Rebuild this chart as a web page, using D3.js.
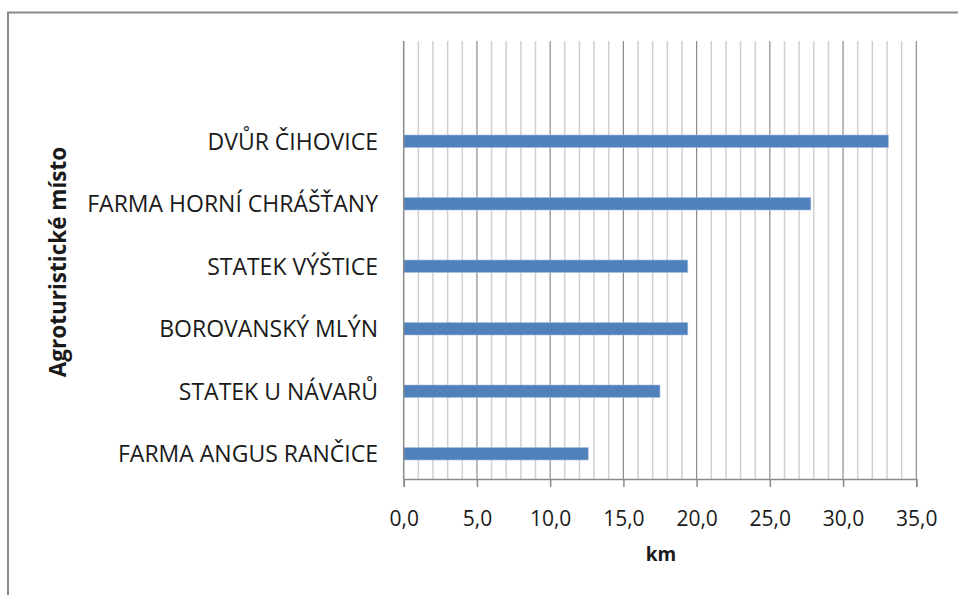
<!DOCTYPE html>
<html>
<head>
<meta charset="utf-8">
<script src="https://cdn.jsdelivr.net/npm/d3@7"></script>
<style>
  body { margin: 0; background: #fff; }
  text { font-family: "Open Sans", Lato, sans-serif; fill: #1a1a1a; }
</style>
</head>
<body>
<div id="chart"></div>
<script>
// places, top to bottom, and their distance in km
var places = ['DVŮR ČIHOVICE', 'FARMA HORNÍ CHRÁŠŤANY', 'STATEK VÝŠTICE',
              'BOROVANSKÝ MLÝN', 'STATEK U NÁVARŮ', 'FARMA ANGUS RANČICE'];
var km = [33.1, 27.8, 19.4, 19.4, 17.5, 12.6];
var xTicks = [0, 5, 10, 15, 20, 25, 30, 35];
var xTitle = 'km';
var yTitle = 'Agroturistické místo';

var w = 958;
var h = 595;
var plotTop = 41, plotBottom = 479;
var barH = 12.5;

var data = places.map(function(p, i) { return {name: p, value: km[i]}; });

var xscale = d3.scaleLinear().domain([0, 35]).range([403.7, 916.3]);
var yscale = d3.scaleBand().domain(places).range([110, 485]);

var svg = d3.select('#chart')
            .append('svg')
            .attr('width', w)
            .attr('height', h);

// chart frame (top and left edges visible)
svg.append('path')
   .attr('d', 'M8,595 L8,12.5 L958,12.5')
   .attr('fill', 'none')
   .attr('stroke', '#8a8a8a')
   .attr('stroke-width', 2);

// minor gridlines
svg.append('g')
   .selectAll('line')
   .data(d3.range(1, 35).filter(function(v) { return v % 5 !== 0; }))
   .enter()
   .append('line')
   .attr('x1', function(d) { return xscale(d); })
   .attr('x2', function(d) { return xscale(d); })
   .attr('y1', plotTop)
   .attr('y2', plotBottom)
   .attr('stroke', '#cfcfcf')
   .attr('stroke-width', 1.5);

// major gridlines
svg.append('g')
   .selectAll('line')
   .data(xTicks.slice(1))
   .enter()
   .append('line')
   .attr('x1', function(d) { return xscale(d); })
   .attr('x2', function(d) { return xscale(d); })
   .attr('y1', plotTop)
   .attr('y2', plotBottom)
   .attr('stroke', '#8c8c8c')
   .attr('stroke-width', 1.2);

// bars
svg.append('g')
   .selectAll('rect')
   .data(data)
   .enter()
   .append('rect')
   .attr('x', xscale(0))
   .attr('y', function(d) { return yscale(d.name) + yscale.bandwidth() / 2 - barH / 2; })
   .attr('width', function(d) { return xscale(d.value) - xscale(0); })
   .attr('height', barH)
   .attr('fill', '#4f81bd')
   .attr('stroke', '#a9c0de')
   .attr('stroke-width', 0.6);

// x axis
var xaxis = d3.axisBottom(xscale)
              .tickValues(xTicks)
              .tickSize(8)
              .tickPadding(24)
              .tickFormat(function(d) { return d3.format('.1f')(d).replace('.', ','); });

var gx = svg.append('g')
            .attr('transform', 'translate(0,' + plotBottom + ')')
            .call(xaxis);
gx.select('.domain').attr('stroke', '#8a8a8a').attr('stroke-width', 1.5);
gx.selectAll('.tick line').attr('stroke', '#8a8a8a').attr('stroke-width', 1.5);
gx.selectAll('.tick text')
  .style('font-family', '"Open Sans", sans-serif')
  .style('font-size', '21px')
  .attr('fill', '#1a1a1a');

// y axis line
svg.append('line')
   .attr('x1', xscale(0))
   .attr('x2', xscale(0))
   .attr('y1', plotTop)
   .attr('y2', plotBottom)
   .attr('stroke', '#8a8a8a')
   .attr('stroke-width', 1.5);

// category labels
svg.append('g')
   .selectAll('text')
   .data(places)
   .enter()
   .append('text')
   .attr('x', 378)
   .attr('y', function(d) { return yscale(d) + yscale.bandwidth() / 2; })
   .attr('dy', '0.36em')
   .attr('text-anchor', 'end')
   .style('font-size', '23px')
   .text(function(d) { return d; });

// axis titles
svg.append('text')
   .attr('x', 661)
   .attr('y', 561)
   .attr('text-anchor', 'middle')
   .style('font-size', '19px')
   .style('font-weight', 'bold')
   .text(xTitle);

svg.append('text')
   .attr('transform', 'translate(66,262) rotate(-90)')
   .attr('text-anchor', 'middle')
   .style('font-size', '22.5px')
   .style('font-weight', 'bold')
   .text(yTitle);
</script>
</body>
</html>
